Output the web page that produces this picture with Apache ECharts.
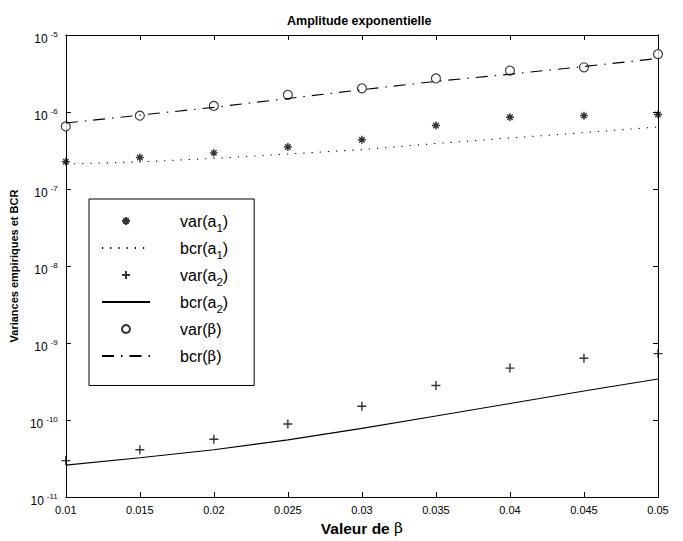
<!DOCTYPE html>
<html>
<head>
<meta charset="utf-8">
<script src="https://cdn.jsdelivr.net/npm/echarts@6/dist/echarts.min.js"></script>
<style>
  html, body { margin: 0; padding: 0; background: #fff; }
  #chart { width: 683px; height: 541px; }
</style>
</head>
<body>
<div id="chart"></div>
<script>
// valeurs de beta
const beta = [0.01, 0.015, 0.02, 0.025, 0.03, 0.035, 0.04, 0.045, 0.05];

// variances empiriques (points) et bornes de Cramer-Rao (courbes)
const varA1 = [2.26e-7, 2.57e-7, 2.95e-7, 3.52e-7, 4.37e-7, 6.68e-7, 8.55e-7, 8.97e-7, 9.3e-7];
const bcrA1 = [2.11e-7, 2.25e-7, 2.5e-7, 2.85e-7, 3.25e-7, 3.9e-7, 4.6e-7, 5.4e-7, 6.4e-7];
const varA2 = [2.98e-11, 4.12e-11, 5.65e-11, 8.9e-11, 1.51e-10, 2.81e-10, 4.73e-10, 6.35e-10, 7.3e-10];
const bcrA2 = [2.6e-11, 3.24e-11, 4.12e-11, 5.54e-11, 7.8e-11, 1.13e-10, 1.64e-10, 2.38e-10, 3.42e-10];
const varB = [6.5e-7, 8.97e-7, 1.2e-6, 1.67e-6, 2.03e-6, 2.73e-6, 3.45e-6, 3.81e-6, 5.65e-6];
const bcrB = [7.2e-7, 9.1e-7, 1.15e-6, 1.5e-6, 1.95e-6, 2.5e-6, 3.1e-6, 3.9e-6, 4.96e-6];

// noms de la legende
const names = ['var(a1)', 'bcr(a1)', 'var(a2)', 'bcr(a2)', 'var(β)', 'bcr(β)'];

const font = 'Liberation Sans, Arial, Helvetica, sans-serif';
const pair = ys => beta.map((x, i) => [x, ys[i]]);

const STAR = 'path://M5,0L5,10M0,5L10,5M1.6,1.6L8.4,8.4M8.4,1.6L1.6,8.4';
const PLUS = 'path://M5,0L5,10M0,5L10,5';

function scatter(name, ys, symbol, size) {
  const isCircle = symbol === 'circle';
  return {
    name: name,
    type: 'scatter',
    data: pair(ys),
    symbol: symbol,
    symbolSize: size,
    symbolKeepAspect: true,
    clip: false,
    itemStyle: {
      color: isCircle ? '#fff' : 'transparent',
      borderColor: '#000',
      borderWidth: isCircle ? 1.1 : 1.4
    }
  };
}

function curve(name, ys, dash) {
  return {
    name: name,
    type: 'line',
    data: pair(ys),
    symbol: 'none',
    clip: false,
    itemStyle: { color: 'transparent' },
    lineStyle: { color: '#000', width: 1.1, type: dash }
  };
}

// formatte les noms avec indices (meme hauteur pour toutes les lignes)
function legendLabel(name) {
  const m = name.match(/^(\w+)\(a(\d)\)$/);
  if (m) return '{sp|}{t|' + m[1] + '(a}{s|' + m[2] + '}{t|)}';
  return '{sp|}{t|' + name.replace('β', '}{g|β}{t|') + '}{s|\u00a0}';
}

const chart = echarts.init(document.getElementById('chart'), null, { renderer: 'svg' });

const xCommon = {
  type: 'value',
  min: 0.01,
  max: 0.05,
  interval: 0.005,
  splitLine: { show: false },
  axisLine: { lineStyle: { color: '#000', width: 1 } },
  axisTick: { inside: true, length: 5, lineStyle: { color: '#000' } }
};
const yCommon = {
  type: 'log',
  logBase: 10,
  min: 1e-11,
  max: 1e-5,
  interval: 1,
  splitLine: { show: false },
  minorTick: { show: false },
  axisLine: { lineStyle: { color: '#000', width: 1 } },
  axisTick: { inside: true, length: 5, lineStyle: { color: '#000' } }
};

const option = {
  backgroundColor: '#fff',
  animation: false,
  title: {
    text: 'Amplitude exponentielle',
    left: 287,
    top: 14,
    padding: 0,
    textStyle: { fontFamily: font, fontSize: 12.5, fontWeight: 'bold', color: '#000' }
  },
  grid: { left: 63, right: 25, top: 35, bottom: 38 },
  legend: {
    orient: 'vertical',
    left: 89,
    top: 199,
    padding: [14, 26, 17, 12],
    itemWidth: 48,
    itemHeight: 8,
    itemGap: 6.5,
    backgroundColor: '#fff',
    borderColor: '#000',
    borderWidth: 1,
    borderRadius: 0,
    data: names,
    formatter: legendLabel,
    textStyle: {
      rich: {
        sp: { width: 25 },
        t: { fontFamily: font, fontSize: 16, color: '#000' },
        g: { fontFamily: 'DejaVu Serif, serif', fontSize: 15, color: '#000' },
        s: { fontFamily: font, fontSize: 11.5, color: '#000', padding: [13, 0, 0, 0] }
      }
    }
  },
  xAxis: [
    Object.assign({}, xCommon, {
      position: 'bottom',
      name: '{a|Valeur de }{b|β}',
      nameLocation: 'middle',
      nameGap: 9,
      nameTextStyle: {
        rich: {
          a: { fontFamily: font, fontSize: 15.5, fontWeight: 'bold', color: '#000' },
          b: { fontFamily: 'DejaVu Serif, serif', fontSize: 15.5, color: '#000' }
        }
      },
      axisLabel: {
        margin: 7,
        fontFamily: font,
        fontSize: 11,
        color: '#000',
        formatter: v => String(+v.toFixed(3))
      }
    }),
    Object.assign({}, xCommon, { position: 'top', axisLabel: { show: false } })
  ],
  yAxis: [
    Object.assign({}, yCommon, {
      position: 'left',
      name: 'Variances empiriques et BCR',
      nameLocation: 'middle',
      nameGap: 37,
      nameTextStyle: { fontFamily: font, fontSize: 11, fontWeight: 'bold', color: '#000' },
      axisLabel: {
        margin: 8,
        formatter: v => '{b|10}{e|' + Math.round(Math.log10(v)) + '}',
        rich: {
          b: { fontFamily: font, fontSize: 12, color: '#000', padding: [7, 0, 0, 0] },
          e: { fontFamily: font, fontSize: 8, color: '#000', padding: [0, 0, 2, 3] }
        }
      }
    }),
    Object.assign({}, yCommon, { position: 'right', axisLabel: { show: false } })
  ],
  series: [
    scatter(names[0], varA1, STAR, 8),
    curve(names[1], bcrA1, [1.2, 7]),
    scatter(names[2], varA2, PLUS, 9),
    curve(names[3], bcrA2, 'solid'),
    scatter(names[4], varB, 'circle', 9),
    curve(names[5], bcrB, [12, 7, 1.5, 7])
  ]
};

chart.setOption(option);
</script>
</body>
</html>
